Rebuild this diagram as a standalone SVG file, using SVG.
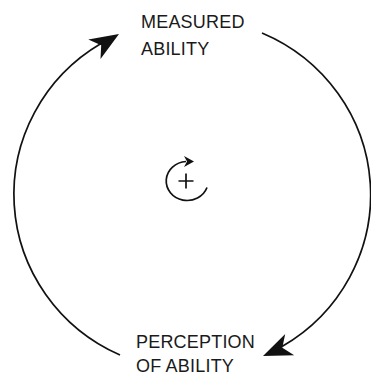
<svg xmlns="http://www.w3.org/2000/svg" width="371" height="376" viewBox="0 0 371 376">
  <style>
    .lbl { font-family: "Liberation Sans", Arial, sans-serif; font-size: 18px; fill: #1a1a1a; letter-spacing: 0.2px; }
    .edge { fill: none; stroke: #111; stroke-width: 1.7; }
    .head { fill: #111; stroke: none; }
  </style>
  <defs>
    <path id="ah" d="M0,0 L-29,-11.5 L-21,0 L-29,11.5 Z"/>
  </defs>
  <rect width="371" height="376" fill="#fff"/>
  <g id="connectors">
    <path class="edge" d="M262,33 A179.5 176 0 0 1 282,346.5"/>
    <use href="#ah" class="head" transform="translate(263,356) rotate(157)"/>
    <path class="edge" d="M120,355 A179.5 176 0 0 1 101,43.5"/>
    <use href="#ah" class="head" transform="translate(119,34) rotate(-32)"/>
  </g>
  <g id="measured-ability">
    <text class="lbl" x="141" y="28">MEASURED</text>
    <text class="lbl" x="141" y="55">ABILITY</text>
  </g>
  <g id="perception-of-ability">
    <text class="lbl" x="136" y="348">PERCEPTION</text>
    <text class="lbl" x="136" y="372">OF ABILITY</text>
  </g>
  <g id="loop-sign">
    <path class="edge" stroke-width="1.5" d="M186,161.5 A21 19.5 0 1 0 207,187.5"/>
    <path class="head" d="M194,161.5 L184,156 L187,161.5 L184,167 Z"/>
    <path class="edge" stroke-width="1.6" d="M178.5,181 H193.5 M186,173.5 V188.5"/>
  </g>
</svg>
